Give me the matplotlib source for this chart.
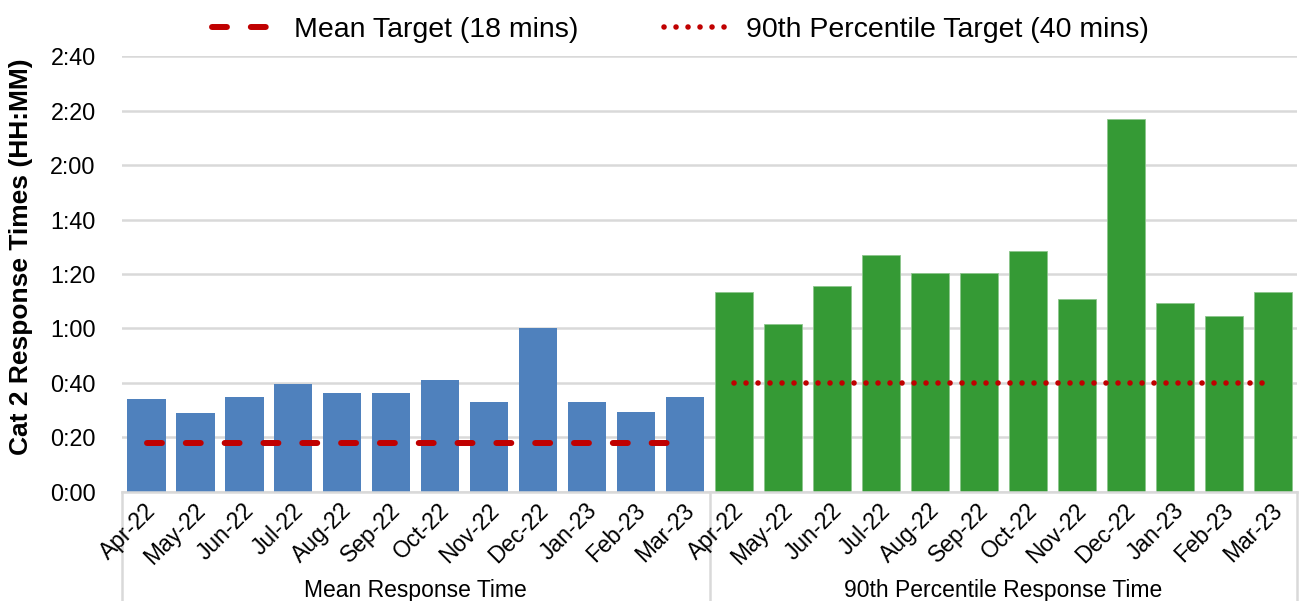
import matplotlib
matplotlib.use("Agg")
import matplotlib.pyplot as plt
from matplotlib.lines import Line2D
import matplotlib.transforms as mtransforms
import numpy as np

plt.rcParams['font.family'] = ['Liberation Sans', 'DejaVu Sans']

# Monthly Cat 2 response times, in minutes
months = ["Apr-22", "May-22", "Jun-22", "Jul-22", "Aug-22", "Sep-22",
          "Oct-22", "Nov-22", "Dec-22", "Jan-23", "Feb-23", "Mar-23"]
mean_minutes = [34, 29, 35, 39.5, 36.5, 36.5, 41, 33, 60, 33, 29.5, 35]
p90_minutes = [73.5, 61.5, 75.5, 87, 80.5, 80.5, 88.5, 71, 137, 69.5, 64.5, 73.5]
groups = ["Mean Response Time", "90th Percentile Response Time"]
mean_target = 18
p90_target = 40
legend_labels = ["Mean Target (18 mins)", "90th Percentile Target (40 mins)"]
y_ticks = list(range(0, 161, 20))

blue = "#4F81BD"
green = "#359A35"
red = "#C00000"
grid_grey = "#D9D9D9"

fig = plt.figure(figsize=(13.01, 6.01), dpi=100)
ax = fig.add_axes([0.0938, 0.1814, 0.9032, 0.7254])

n = len(months)
x_mean = np.arange(n)
x_p90 = np.arange(n) + n

ax.bar(x_mean, mean_minutes, width=0.78, color=blue, zorder=2)
ax.bar(x_p90, p90_minutes, width=0.78, color=green, edgecolor="#8CC68C",
       linewidth=0.6, zorder=2)

# Target lines across each group
ax.plot([x_mean[0], x_mean[-1]], [mean_target] * 2, color=red, lw=4.3,
        dashes=(2.5, 4.0), dash_capstyle='round', zorder=3)
ax.plot([x_p90[0], x_p90[-1]], [p90_target] * 2, color=red, lw=4.0,
        dashes=(0.01, 2.15), dash_capstyle='round', zorder=3)

ax.set_xlim(-0.5, 2 * n - 0.5)
ax.set_ylim(0, 160)
ax.set_yticks(y_ticks)
ax.set_yticklabels([f"{t // 60}:{t % 60:02d}" for t in y_ticks], fontsize=16.8)
ax.tick_params(axis='y', length=0, pad=19)
ax.yaxis.grid(True, color=grid_grey, lw=1.8, zorder=0)
ax.set_axisbelow(True)

for s in ["left", "right", "top"]:
    ax.spines[s].set_visible(False)
ax.spines["bottom"].set_color(grid_grey)
ax.spines["bottom"].set_linewidth(1.8)

# Month labels, rotated
ax.set_xticks(np.concatenate([x_mean, x_p90]))
ax.set_xticklabels(months + months, fontsize=16.5, rotation=45, ha='right',
                   va='center', rotation_mode='anchor')
ax.tick_params(axis='x', length=0, pad=11)
offset = mtransforms.ScaledTranslation(0.06, 0, fig.dpi_scale_trans)
for lbl in ax.get_xticklabels():
    lbl.set_transform(lbl.get_transform() + offset)

# Group dividers (behind the month labels) and group labels
blend = mtransforms.blended_transform_factory(ax.transData, ax.transAxes)
for xv in [-0.5, n - 0.5, 2 * n - 0.5]:
    ax.add_line(Line2D([xv, xv], [0, -0.26], transform=blend, color=grid_grey,
                       lw=1.8, clip_on=False, zorder=-1))
for i, g in enumerate(groups):
    ax.text(i * n + (n - 1) / 2, -0.225, g, transform=blend, ha='center',
            va='center', fontsize=16.5)

ax.set_ylabel("Cat 2 Response Times (HH:MM)", fontsize=19, fontweight='bold',
              va='center')
ax.yaxis.set_label_coords(-0.086, 0.54)

handles = [
    Line2D([], [], color=red, lw=4.3, dashes=(2.5, 4.0), dash_capstyle='round'),
    Line2D([], [], color=red, lw=4.0, dashes=(0.01, 2.15), dash_capstyle='round'),
]
fig.legend(handles, legend_labels, loc='upper center',
           bbox_to_anchor=(0.523, 1.015), ncol=2, frameon=False, fontsize=20.5,
           handlelength=2.4, handletextpad=0.5, columnspacing=3.0)

fig.savefig("out.png", dpi=100)
